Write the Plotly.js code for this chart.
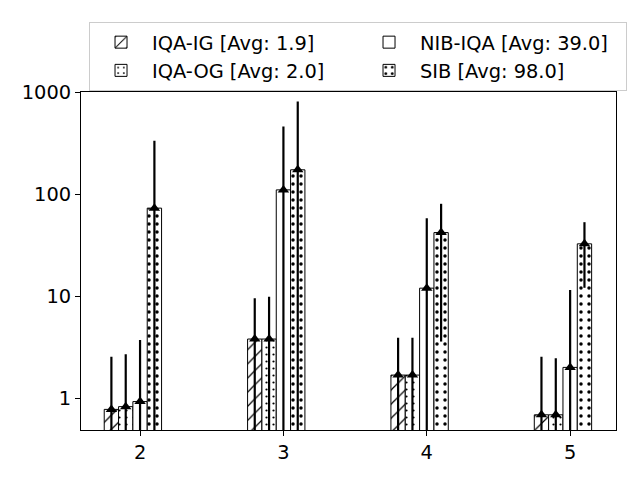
<!DOCTYPE html>
<html>
<head>
<meta charset="utf-8">
<script src="https://cdn.plot.ly/plotly-3.0.1.min.js"></script>
<style>
  html, body { margin: 0; padding: 0; background: #fff; }
  #chart { width: 640px; height: 480px; }
</style>
</head>
<body>
<div id="chart"></div>
<script>
// group positions on the x axis
const groups = [2, 3, 4, 5];

// bar heights (log scale) and symmetric error half-widths
const iqaIg = [0.78, 3.81, 1.69, 0.69];
const iqaIgErr = [1.78, 5.74, 2.24, 1.87];
const iqaOg = [0.83, 3.81, 1.69, 0.69];
const iqaOgErr = [1.87, 6.09, 2.24, 1.78];
const nibIqa = [0.93, 110, 12.0, 2.01];
const nibIqaErr = [2.80, 350, 46.2, 9.5];
const sib = [72.9, 173, 42.0, 32.6];
const sibErr = [260, 636, 38.4, 20.5];

const seriesNames = ['IQA-IG [Avg: 1.9]', 'IQA-OG [Avg: 2.0]', 'NIB-IQA [Avg: 39.0]', 'SIB [Avg: 98.0]'];
const yTickVals = [1, 10, 100, 1000];
const yTickText = ['1', '10', '100', '1000'];

const barW = 0.1;
const FONT = 'DejaVu Sans, sans-serif';
const FS = 19.4;
const yRange = [Math.log10(0.49), 3];

function makeBars(name, vals, errs, slot, pattern, rank) {
    const off = -0.25 + slot * barW;
    const bar = {
        type: 'bar',
        name: name,
        x: groups,
        y: vals,
        offset: off,
        width: barW,
        legendrank: rank,
        marker: {
            color: 'white',
            line: { color: 'black', width: 1 },
            pattern: pattern
        },
        hoverinfo: 'skip'
    };
    const tops = {
        type: 'scatter',
        mode: 'markers',
        x: groups.map(g => g + off + barW / 2),
        y: vals,
        showlegend: false,
        marker: { symbol: 'triangle-up', size: 10, color: 'black' },
        error_y: {
            type: 'data',
            array: errs,
            symmetric: true,
            thickness: 2.2,
            width: 0,
            color: 'black'
        },
        hoverinfo: 'skip'
    };
    return [bar, tops];
}

const traces = [
    ...makeBars(seriesNames[0], iqaIg, iqaIgErr, 0,
        { shape: '/', fgcolor: 'black', bgcolor: 'white', size: 10, solidity: 0.12 }, 1),
    ...makeBars(seriesNames[1], iqaOg, iqaOgErr, 1,
        { shape: '.', fgcolor: 'black', bgcolor: 'white', size: 7, solidity: 0.08 }, 3),
    ...makeBars(seriesNames[2], nibIqa, nibIqaErr, 2,
        { shape: '' }, 2),
    ...makeBars(seriesNames[3], sib, sibErr, 3,
        { shape: '.', fgcolor: 'black', bgcolor: 'white', size: 8, solidity: 0.15 }, 4)
];
// bars first so the markers and error bars sit on top
traces.sort((a, b) => (a.type === 'bar' ? 0 : 1) - (b.type === 'bar' ? 0 : 1));

const layout = {
    width: 640,
    height: 480,
    margin: { l: 81, r: 24, t: 92, b: 50 },
    paper_bgcolor: 'white',
    plot_bgcolor: 'white',
    font: { family: FONT, size: FS, color: 'black' },
    barmode: 'overlay',
    showlegend: true,
    legend: {
        orientation: 'h',
        x: 0.015,
        xanchor: 'left',
        y: 1.207,
        yanchor: 'top',
        itemwidth: 52,
        entrywidth: 201,
        entrywidthmode: 'pixels',
        bordercolor: '#cccccc',
        borderwidth: 1,
        bgcolor: 'white',
        font: { family: FONT, size: FS, color: 'black' },
        traceorder: 'normal'
    },
    xaxis: {
        range: [1.588, 5.32],
        tickvals: groups,
        ticktext: groups.map(String),
        ticks: 'outside',
        ticklen: 5,
        tickwidth: 1,
        tickcolor: 'black',
        showgrid: false,
        zeroline: false,
        showline: true,
        mirror: true,
        linecolor: 'black',
        linewidth: 1
    },
    yaxis: {
        type: 'log',
        range: yRange,
        tickvals: yTickVals,
        ticktext: yTickText,
        ticks: 'outside',
        ticklen: 5,
        tickwidth: 1,
        tickcolor: 'black',
        showgrid: false,
        zeroline: false,
        showline: true,
        mirror: true,
        linecolor: 'black',
        linewidth: 1
    }
};

Plotly.newPlot('chart', traces, layout, { displayModeBar: false, staticPlot: true });
</script>
</body>
</html>
